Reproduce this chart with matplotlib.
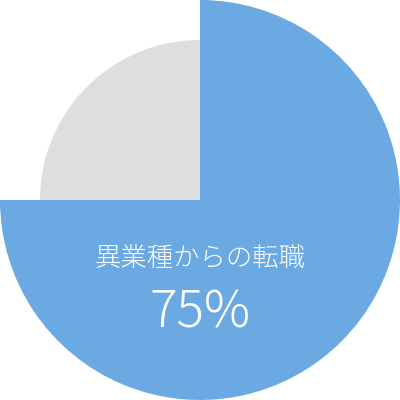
import matplotlib

matplotlib.use("Agg")
import matplotlib.pyplot as plt

plt.rcParams["font.family"] = ["Noto Sans CJK JP", "DejaVu Sans"]

labels = ["異業種からの転職", "その他"]
shares = [75, 25]
radii = [1.0, 0.8]
colors = ["#6aa9e2", "#dedede"]

fig = plt.figure(figsize=(4, 4), dpi=100)
ax = fig.add_axes([0, 0, 1, 1])

# draw each slice as its own pie so the slices can have different radii
for i, (r, c) in enumerate(zip(radii, colors)):
    cols = ["none"] * len(shares)
    cols[i] = c
    ax.pie(shares, radius=r, colors=cols, startangle=90, counterclock=False,
           wedgeprops={"linewidth": 0})

ax.set_xlim(-1, 1)
ax.set_ylim(-1, 1)
ax.set_aspect("equal")
ax.axis("off")

ax.text(0, -0.29, labels[0], color="white", fontsize=19, ha="center", va="center",
        fontweight="light")
ax.text(0, -0.565, f"{shares[0]}%", color="white", fontsize=37,
        ha="center", va="center", fontweight="light")

fig.savefig("out.png", dpi=100)
